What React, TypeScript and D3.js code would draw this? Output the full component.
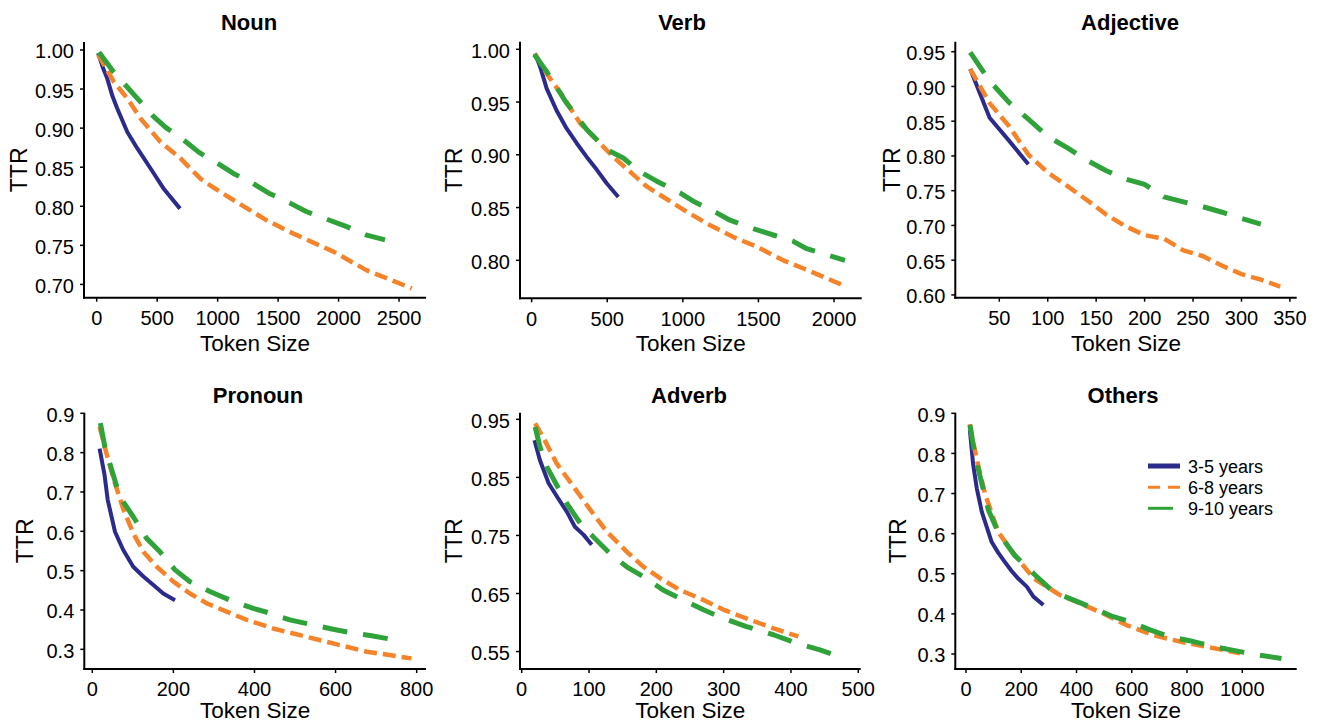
import React from "react";
import * as d3 from "d3";

// series
const seriesNames = ["3-5 years", "6-8 years", "9-10 years"];
const titles = ["Noun", "Verb", "Adjective", "Pronoun", "Adverb", "Others"];

// [token size, TTR]
const noun35 = [[12,0.996],[50,0.978],[88,0.963],[130,0.941],[170,0.925],[253,0.895],[336,0.874],[447,0.848],[556,0.822],[689,0.797]];
const noun68 = [[12,0.994],[143,0.959],[253,0.938],[364,0.912],[529,0.882],[695,0.861],[860,0.835],[965,0.824],[1130,0.808],[1406,0.782],[1626,0.765],[1957,0.742],[2233,0.718],[2605,0.695]];
const noun910 = [[19,0.997],[129,0.974],[336,0.938],[469,0.915],[570,0.901],[717,0.885],[846,0.869],[1020,0.853],[1130,0.842],[1295,0.829],[1433,0.816],[1599,0.804],[1736,0.793],[2067,0.774],[2233,0.763],[2384,0.757]];

const verb35 = [[22,0.996],[55,0.984],[99,0.963],[165,0.942],[231,0.925],[298,0.911],[364,0.898],[430,0.886],[496,0.873],[573,0.86]];
const verb68 = [[22,0.996],[99,0.977],[209,0.955],[320,0.93],[430,0.914],[540,0.898],[650,0.884],[761,0.87],[871,0.86],[1003,0.848],[1157,0.835],[1334,0.822],[1488,0.813],[1664,0.8],[1819,0.791],[2083,0.775]];
const verb910 = [[18,0.995],[99,0.979],[231,0.949],[364,0.924],[496,0.905],[606,0.897],[716,0.884],[827,0.875],[981,0.864],[1069,0.856],[1224,0.845],[1312,0.838],[1466,0.83],[1598,0.824],[1731,0.818],[1819,0.811],[2072,0.8]];

const adj35 = [[20,0.925],[40,0.855],[60,0.822],[80,0.788]];
const adj68 = [[20,0.925],[40,0.876],[60,0.843],[80,0.802],[100,0.776],[120,0.757],[140,0.737],[160,0.716],[180,0.699],[200,0.686],[220,0.681],[240,0.664],[260,0.656],[280,0.642],[300,0.63],[320,0.622],[340,0.612]];
const adj910 = [[20,0.949],[40,0.908],[60,0.877],[80,0.853],[100,0.828],[120,0.812],[140,0.794],[160,0.779],[180,0.767],[200,0.759],[220,0.741],[240,0.734],[260,0.727],[280,0.719],[300,0.71],[320,0.702]];

const pro35 = [[18,0.81],[30,0.745],[38,0.68],[56,0.599],[76,0.553],[101,0.51],[126,0.485],[150,0.464],[175,0.442],[204,0.425]];
const pro68 = [[18,0.866],[35,0.798],[56,0.722],[76,0.658],[101,0.595],[126,0.548],[159,0.51],[200,0.472],[241,0.442],[282,0.417],[331,0.396],[381,0.375],[446,0.353],[512,0.336],[594,0.315],[677,0.294],[787,0.277]];
const pro910 = [[20,0.875],[31,0.815],[48,0.756],[68,0.688],[101,0.637],[134,0.582],[167,0.548],[204,0.502],[241,0.472],[290,0.447],[340,0.425],[397,0.404],[438,0.392],[487,0.375],[545,0.362],[594,0.351],[644,0.341],[685,0.335],[746,0.324]];

const adv35 = [[19,0.914],[27,0.88],[40,0.84],[54,0.814],[67,0.791],[79,0.765],[92,0.751],[104,0.734]];
const adv68 = [[20,0.943],[35,0.912],[52,0.874],[77,0.834],[102,0.794],[126,0.757],[156,0.722],[181,0.696],[206,0.676],[235,0.656],[270,0.639],[300,0.622],[334,0.607],[374,0.59],[411,0.576]];
const adv910 = [[20,0.937],[27,0.903],[37,0.869],[52,0.837],[67,0.805],[87,0.771],[106,0.748],[131,0.719],[156,0.696],[181,0.679],[210,0.656],[240,0.639],[270,0.622],[300,0.607],[334,0.593],[374,0.579],[409,0.564],[443,0.553],[473,0.541]];

const oth35 = [[14,0.858],[26,0.772],[39,0.713],[57,0.655],[75,0.617],[93,0.579],[117,0.552],[141,0.529],[165,0.507],[189,0.488],[220,0.468],[244,0.443],[280,0.422]];
const oth68 = [[14,0.873],[27,0.825],[45,0.767],[69,0.699],[93,0.651],[117,0.604],[159,0.563],[201,0.526],[244,0.489],[292,0.468],[340,0.447],[413,0.426],[497,0.401],[581,0.372],[678,0.347],[774,0.331],[871,0.318],[992,0.302]];
const oth910 = [[14,0.871],[33,0.794],[51,0.742],[81,0.659],[117,0.603],[177,0.545],[207,0.526],[250,0.497],[316,0.455],[388,0.435],[461,0.414],[533,0.393],[593,0.381],[666,0.36],[738,0.343],[823,0.331],[907,0.317],[992,0.306],[1064,0.297],[1142,0.289]];

const panelData = [
  [noun35, noun68, noun910],
  [verb35, verb68, verb910],
  [adj35, adj68, adj910],
  [pro35, pro68, pro910],
  [adv35, adv68, adv910],
  [oth35, oth68, oth910],
];

// axes
const xTicks = [
  [0, 500, 1000, 1500, 2000, 2500],
  [0, 500, 1000, 1500, 2000],
  [50, 100, 150, 200, 250, 300, 350],
  [0, 200, 400, 600, 800],
  [0, 100, 200, 300, 400, 500],
  [0, 200, 400, 600, 800, 1000],
];
const yTicks = [
  [0.7, 0.75, 0.8, 0.85, 0.9, 0.95, 1.0],
  [0.8, 0.85, 0.9, 0.95, 1.0],
  [0.6, 0.65, 0.7, 0.75, 0.8, 0.85, 0.9, 0.95],
  [0.3, 0.4, 0.5, 0.6, 0.7, 0.8, 0.9],
  [0.55, 0.65, 0.75, 0.85, 0.95],
  [0.3, 0.4, 0.5, 0.6, 0.7, 0.8, 0.9],
];
const yFormats = [".2f", ".2f", ".2f", ".1f", ".2f", ".1f"];
const xDomains = [[-105, 2723], [-77, 2183], [4.6, 357], [-19.7, 823], [-2.5, 503.6], [-38.7, 1197]];
const yDomains = [[0.683, 1.0102], [0.764, 1.0072], [0.596, 0.9644], [0.25, 0.9015], [0.52, 0.9614], [0.2626, 0.9015]];

// layout
const frames = [
  { left: 84, right: 426, top: 42, bottom: 297.7, titleX: 249, ylab: 57, titleY: 29.5, xlab: 53, xtick: 27.5 },
  { left: 520, right: 861.7, top: 41.7, bottom: 298.3, titleX: 682, ylab: 58, titleY: 29.5, xlab: 53, xtick: 27.5 },
  { left: 955.3, right: 1296.7, top: 41.7, bottom: 297.7, titleX: 1130, ylab: 55, titleY: 29.5, xlab: 53, xtick: 27.5 },
  { left: 84.3, right: 426, top: 412.7, bottom: 669, titleX: 258, ylab: 51, titleY: 403, xlab: 49, xtick: 26.5 },
  { left: 520, right: 860.7, top: 412.7, bottom: 669, titleX: 689, ylab: 58, titleY: 403, xlab: 49, xtick: 26.5 },
  { left: 955.3, right: 1296.7, top: 412.7, bottom: 669, titleX: 1123, ylab: 49, titleY: 403, xlab: 49, xtick: 26.5 },
];

const colors = ["#2b2b8c", "#f5832a", "#2fa23a"];
const widths = [4, 4.5, 5];
const dashes = [null, "13 6", "25 16"];
const font = "'Liberation Sans', Arial, Helvetica, sans-serif";

function Panel({ i }: { i: number }) {
  const f = frames[i];
  const x = d3.scaleLinear().domain(xDomains[i]).range([f.left, f.right]);
  const y = d3.scaleLinear().domain(yDomains[i]).range([f.bottom, f.top]);
  const line = d3
    .line<number[]>()
    .x((d) => x(d[0]))
    .y((d) => y(d[1]));
  const fmt = d3.format(yFormats[i]);

  return (
    <g>
      <text x={f.titleX} y={f.titleY} textAnchor="middle" fontWeight="bold" fontSize={22}>
        {titles[i]}
      </text>
      {panelData[i].map((s, k) => (
        <path
          key={k}
          d={line(s) || ""}
          fill="none"
          stroke={colors[k]}
          strokeWidth={widths[k]}
          strokeDasharray={dashes[k] || undefined}
          strokeLinejoin="round"
        />
      ))}
      <line x1={f.left} x2={f.left} y1={f.top} y2={f.bottom + 1} stroke="#000" strokeWidth={2} />
      <line x1={f.left - 1} x2={f.right} y1={f.bottom} y2={f.bottom} stroke="#000" strokeWidth={2} />
      {yTicks[i].map((t) => (
        <g key={t}>
          <line x1={f.left - 4} x2={f.left} y1={y(t)} y2={y(t)} stroke="#000" strokeWidth={1.5} />
          <text x={f.left - 10} y={y(t) + 8.5} textAnchor="end" fontSize={20}>
            {fmt(t)}
          </text>
        </g>
      ))}
      {xTicks[i].map((t) => (
        <g key={t}>
          <line x1={x(t)} x2={x(t)} y1={f.bottom} y2={f.bottom + 4} stroke="#000" strokeWidth={1.5} />
          <text x={x(t)} y={f.bottom + f.xtick} textAnchor="middle" fontSize={20}>
            {t}
          </text>
        </g>
      ))}
      <text x={(f.left + f.right) / 2} y={f.bottom + f.xlab} textAnchor="middle" fontSize={22.5}>
        Token Size
      </text>
      <text
        transform={`translate(${f.left - f.ylab},${(f.top + f.bottom) / 2}) rotate(-90)`}
        textAnchor="middle"
        fontSize={23}
      >
        TTR
      </text>
    </g>
  );
}

function Legend() {
  const lx = 1148;
  const rows = [466, 487.3, 508.3];
  const lw = [5, 3, 3];
  const ld = [null, "12 8", null];
  const len = [32, 34, 25];
  return (
    <g>
      {seriesNames.map((n, k) => (
        <g key={n}>
          <line
            x1={lx}
            x2={lx + len[k]}
            y1={rows[k]}
            y2={rows[k]}
            stroke={colors[k]}
            strokeWidth={lw[k]}
            strokeDasharray={ld[k] || undefined}
          />
          <text x={1188} y={rows[k] + 6.5} fontSize={18}>
            {n}
          </text>
        </g>
      ))}
    </g>
  );
}

export default function App() {
  return (
    <svg
      width={1322}
      height={725}
      style={{ position: "absolute", left: 0, top: 0, background: "#fff" }}
      fontFamily={font}
    >
      {titles.map((_, i) => (
        <Panel key={i} i={i} />
      ))}
      <Legend />
    </svg>
  );
}
